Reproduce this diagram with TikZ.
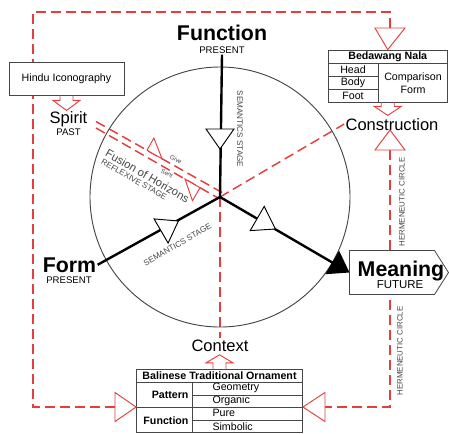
\documentclass[tikz,border=0pt]{standalone}
\usepackage{fontspec}
\setmainfont{Liberation Sans}
\usetikzlibrary{arrows.meta}

\definecolor{hermred}{RGB}{228,62,62}
\definecolor{linegray}{RGB}{70,70,70}

\tikzset{every picture/.style={line width=0.75pt}}
\tikzset{
  reddash/.style={draw=hermred, line width=1.1pt, dash pattern=on 7.5pt off 3.75pt},
  redhead/.style={draw=hermred, fill=white, line width=0.7pt, line join=miter},
  spoke/.style={draw=black, line width=1.8pt},
  openhead/.style={draw=black, fill=white, line width=0.7pt},
  tablebox/.style={draw=linegray, fill=white, line width=0.6pt, inner sep=0pt},
  tableline/.style={draw=linegray, line width=0.6pt},
  bigbold/.style={font=\fontsize{16}{16}\selectfont\bfseries, inner sep=0.75pt},
  midtxt/.style={font=\fontsize{12.4}{13}\selectfont, inner sep=0.75pt},
  subtxt/.style={font=\fontsize{7.2}{8}\selectfont, inner sep=0.75pt},
  tabtxt/.style={font=\fontsize{8}{9.75}\selectfont, inner sep=0.75pt},
  tabbold/.style={font=\fontsize{8}{9.75}\selectfont\bfseries, inner sep=0.75pt},
  stagetxt/.style={font=\fontsize{6.1}{7}\selectfont, text=linegray, inner sep=0.75pt},
  minitxt/.style={font=\fontsize{4.6}{5}\selectfont, text=linegray, inner sep=0.5pt},
}

\begin{document}
\begin{tikzpicture}[x=0.75pt,y=0.75pt,yscale=-1,xscale=1]
\useasboundingbox (0,0) rectangle (449,433);

\coordinate (O) at (220,197);

% Labels round the circle
\node[bigbold, anchor=base] (function) at (222,40) {Function};
\node[subtxt, anchor=base] (functionsub) at (222,53) {PRESENT};
\node[bigbold, anchor=base] (form) at (69.5,272) {Form};
\node[subtxt, anchor=base] (formsub) at (69,283) {PRESENT};
\node[midtxt, anchor=base] (spirit) at (68.5,123) {Spirit};
\node[subtxt, anchor=base] (spiritsub) at (68.5,135) {PAST};
\node[midtxt, anchor=base] (construction) at (392,130) {Construction};
\node[midtxt, anchor=base] (context) at (220,351) {Context};

% Hermeneutic circle (dashed loop)
\coordinate (topin) at (390,28);
\coordinate (cornertl) at (33,12);
\coordinate (leftin) at (115,407);
\coordinate (constrin) at (390,150);
\coordinate (rightin) at (325,407);
\draw[reddash] (topin) |- (cornertl) |- (leftin);
\draw[reddash] (constrin) |- (rightin);

% Dashed axes
\draw[reddash] (O) -- (construction.west);
\draw[reddash] (O) -- (context.north);
\coordinate (fusa1) at (96,121.5);
\coordinate (fusb1) at (222,192.5);
\coordinate (fusa2) at (96,128);
\coordinate (fusb2) at (218,198);
\draw[reddash] (fusa1) -- (fusb1);
\draw[reddash] (fusa2) -- (fusb2);

% Circle
\draw[draw=linegray, line width=0.7pt] (O) circle (130);

% Meaning box
\node[minimum width=73.5pt, minimum height=32.25pt, inner sep=0pt] (meaning) at (399,272.5) {};
\draw[draw=linegray, fill=white, line width=0.6pt] (meaning.north west) -- ([xshift=-10.5pt]meaning.north east)
  -- (meaning.east) -- ([xshift=-10.5pt]meaning.south east) -- (meaning.south west) -- cycle;
\node[bigbold, anchor=base] (meaningtxt) at (401,276) {Meaning};
\node[font=\fontsize{8.6}{9}\selectfont, inner sep=0.75pt, anchor=base] (meaningsub) at (400,288) {FUTURE};

% Spokes
\draw[spoke] (O) -- (functionsub.south);
\draw[spoke] (O) -- (form.east);
\draw[spoke, -{Triangle[length=15pt,width=20pt]}] (O) -- (meaning.west);

% Open heads on the spokes
\draw[openhead] (206,129) -- (234,129) -- (220,149) -- cycle;
\draw[openhead] (154.1,218.9) -- (168.1,243.1) -- (178.4,221) -- cycle;
\draw[openhead] (264.2,206.4) -- (250.2,230.6) -- (275.4,229) -- cycle;

% Give / Sent half heads
\draw[redhead] (147,150.2) -- (153.9,138) -- (162,158.7) -- cycle;
\draw[redhead] (200,187.7) -- (192.5,200.7) -- (185,179.1) -- cycle;
\node[minitxt, rotate=-29.5] (give) at (176,159.5) {Give};
\node[minitxt, rotate=-29.5] (sent) at (167,173.5) {Sent};
\node[font=\fontsize{8.5}{9}\selectfont, text=linegray, inner sep=0.5pt, rotate=-30] (fusion) at (147.5,176) {Fusion of Horizons};
\node[stagetxt, rotate=-30, anchor=north west] (reflexive) at (fusion.south west) {REFLEXIVE STAGE};

% Stage labels
\node[stagetxt, rotate=-90] (semfunction) at (240,129) {SEMANTICS STAGE};
\node[stagetxt, rotate=30] (semform) at (177.5,244.5) {SEMANTICS STAGE};
\node[stagetxt, font=\fontsize{5.9}{6}\selectfont, rotate=90] (hermupper) at (402,202) {HERMENEUTIC CIRCLE};
\node[stagetxt, font=\fontsize{5.9}{6}\selectfont, rotate=90] (hermlower) at (400,351) {HERMENEUTIC CIRCLE};

% Hindu Iconography
\node[tablebox, tabtxt, minimum width=86.25pt, minimum height=24.75pt] (hindu) at (66.5,78.5) {Hindu Iconography};
\draw[redhead, fill=none] (hindu.south) ++(-6.5,0) -- ++(0,5) -- ++(-7,0) -- ++(13.5,10) -- ++(13.5,-10) -- ++(-7,0) -- ++(0,-5);

% Bedawang Nala
\node[tablebox, minimum width=89.6pt, minimum height=39pt] (bedawang) at (387.75,76) {};
\draw[tableline] (328,63) -- (447.5,63);
\draw[tableline] (328,76) -- (378,76);
\draw[tableline] (328,89) -- (378,89);
\draw[tableline] (378,63) -- (378,102);
\node[tabbold] (bedawanghead) at (387.75,56.5) {Bedawang Nala};
\node[tabtxt] (head) at (353,69.5) {Head};
\node[tabtxt] (body) at (353,82.5) {Body};
\node[tabtxt] (foot) at (353,95.5) {Foot};
\node[tabtxt, align=center] (comparison) at (413,83.5) {Comparison\\Form};
\draw[redhead, fill=none] (bedawang.south) ++(-6.5,0) -- ++(0,4) -- ++(-7,0) -- ++(13.5,9) -- ++(13.5,-9) -- ++(-7,0) -- ++(0,-4);

% Balinese Traditional Ornament
\node[tablebox, minimum width=124.5pt, minimum height=47.25pt] (balinese) at (219.5,400.75) {};
\draw[tableline] (136.5,382) -- (302.5,382);
\draw[tableline] (136.5,407) -- (302.5,407);
\draw[tableline] (192,395) -- (302.5,395);
\draw[tableline] (192,420) -- (302.5,420);
\draw[tableline] (192,382) -- (192,432.5);
\node[tabbold] (balinesehead) at (219.5,375.5) {Balinese Traditional Ornament};
\node[tabbold, anchor=east] (pattern) at (190,394.5) {Pattern};
\node[tabbold, anchor=east] (functionrow) at (190,420.5) {Function};
\node[tabtxt, anchor=west] (geometry) at (211,388) {Geometry};
\node[tabtxt, anchor=west] (organic) at (211,401) {Organic};
\node[tabtxt, anchor=west] (pure) at (211,413) {Pure};
\node[tabtxt, anchor=west] (simbolic) at (211,426.5) {Simbolic};
\draw[redhead, fill=none] (balinese.north) ++(-6.5,0) -- ++(0,-6) -- ++(-7,0) -- ++(13.5,-8) -- ++(13.5,8) -- ++(-7,0) -- ++(0,6);

% Big open heads of the dashed loop
\draw[redhead] (topin) ++(-15,0) -- (405,28) -- (bedawang.north) -- cycle;
\draw[redhead] (leftin) ++(0,-14.5) -- (115,421.5) -- (balinese.west |- leftin) -- cycle;
\draw[redhead] (rightin) ++(0,-14.5) -- (325,421.5) -- (balinese.east |- rightin) -- cycle;
\draw[redhead] (constrin) ++(-15,0) -- (405,150) -- (390,130) -- cycle;

\end{tikzpicture}
\end{document}
